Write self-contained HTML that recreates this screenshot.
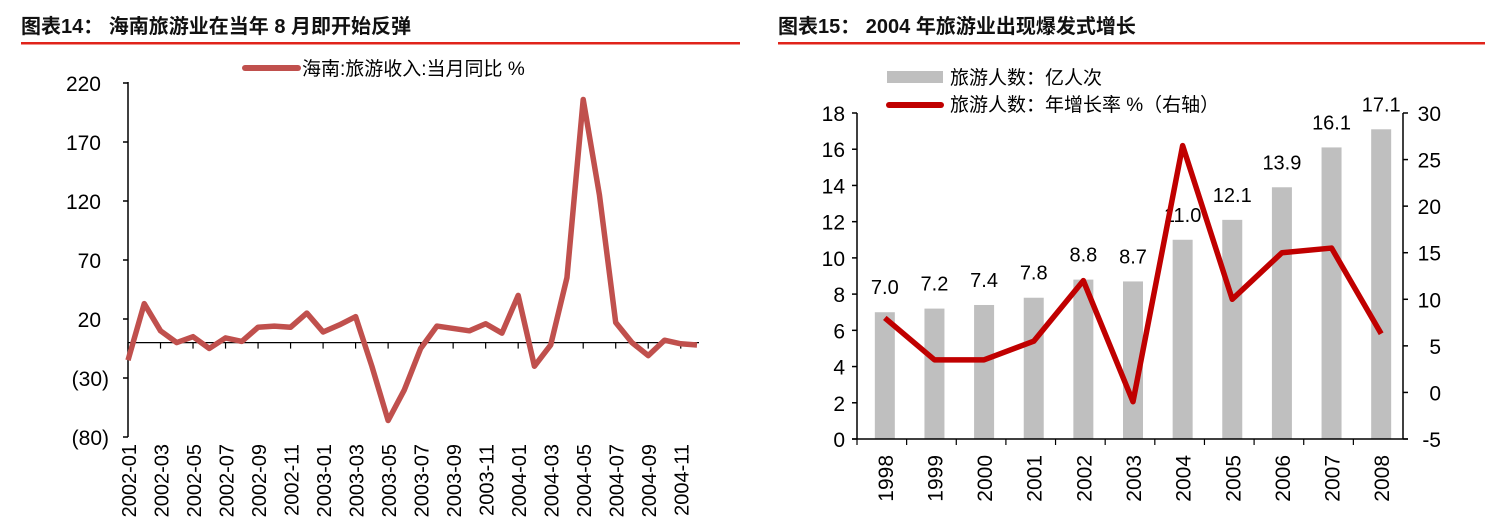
<!DOCTYPE html>
<html><head><meta charset="utf-8"><style>
body{margin:0;background:#fff;}
svg{display:block;font-family:"Liberation Sans","Noto Sans CJK SC",sans-serif;}
</style></head><body>
<svg id="s" width="1504" height="523" viewBox="0 0 1504 523">
<text x="21" y="33" font-size="20" font-weight="bold" fill="#111">图表14：  海南旅游业在当年 8 月即开始反弹</text>
<rect x="21" y="42" width="719" height="2.5" fill="#e0231a"/>
<text x="778" y="33" font-size="20" font-weight="bold" fill="#111">图表15：  2004 年旅游业出现爆发式增长</text>
<rect x="778" y="42" width="707" height="2.5" fill="#e0231a"/>
<g id="left"></g>
<g id="right"></g>
</svg>
<script>
// Left chart data
const monthLabels = ["2002-01","2002-03","2002-05","2002-07","2002-09","2002-11","2003-01","2003-03","2003-05","2003-07","2003-09","2003-11","2004-01","2004-03","2004-05","2004-07","2004-09","2004-11"];
const leftTicks = [220,170,120,70,20,-30,-80];
const tourismIncomeYoY = [-15,33,10,0,5,-5,4,1,13,14,13,25,9,15,22,-20,-66,-40,-5,14,12,10,16,8,40,-20,-2,55,206,125,17,0,-11,2,-1,-2];
// Right chart data
const years = ["1998","1999","2000","2001","2002","2003","2004","2005","2006","2007","2008"];
const visitors = [7.0,7.2,7.4,7.8,8.8,8.7,11.0,12.1,13.9,16.1,17.1];
const growthRate = [8,3.5,3.5,5.5,12,-1,26.5,10,15,15.5,6.3];
const leftAxisTicks = [0,2,4,6,8,10,12,14,16,18];
const rightAxisTicks = [-5,0,5,10,15,20,25,30];

const NS="http://www.w3.org/2000/svg";
function mk(parent,tag,attrs,text){const e=document.createElementNS(NS,tag);for(const k in attrs)e.setAttribute(k,attrs[k]);if(text!==undefined)e.textContent=text;parent.appendChild(e);return e;}

// ---- left chart ----
const L=document.getElementById('left');
const lx0=128, lstep=(697-128)/35;
const ly=v=>342.6-(v)*1.18;
const lxi=i=>lx0+i*lstep;
let e=mk(L,'line',{x1:lx0,y1:ly(220)-1,x2:lx0,y2:ly(-80),stroke:'#000','stroke-width':1.5});


leftTicks.forEach(t=>{
  e=mk(L,'line',{x1:lx0-5,y1:ly(t),x2:lx0,y2:ly(t),stroke:'#000','stroke-width':1.5});
  
  
  const lab=t<0?'('+(-t)+')':String(t);
  e=mk(L,'text',{x:t<0?lx0-19:lx0-27,y:ly(t)+8,'font-size':21,'text-anchor':'end',fill:'#000'},lab);
  
  
});
e=mk(L,'line',{x1:lx0,y1:ly(0),x2:lxi(35)+2,y2:ly(0),stroke:'#000','stroke-width':1.2});


monthLabels.forEach((m,k)=>{
  const x=lxi(k*2);
  e=mk(L,'line',{x1:x,y1:ly(0),x2:x,y2:ly(0)+6,stroke:'#000','stroke-width':1.2});
  
  
  e=mk(L,'text',{x:0,y:0,'font-size':20,'text-anchor':'end',fill:'#000',transform:`translate(${x+8},444) rotate(-90)`},m);
  
  
});
e=mk(L,'polyline',{points:tourismIncomeYoY.map((v,i)=>lxi(i)+','+ly(v)).join(' '),fill:'none',stroke:'#c0504d','stroke-width':5.5,'stroke-linejoin':'round'});


e=mk(L,'line',{x1:245,y1:68,x2:298,y2:68,stroke:'#c0504d','stroke-width':6,'stroke-linecap':'round'});


e=mk(L,'text',{x:302,y:75,'font-size':19,fill:'#000'},'海南:旅游收入:当月同比 %');



// ---- right chart ----
const R=document.getElementById('right');
const rx0=857, rx1=1403, rstep=(rx1-rx0)/years.length;
const ryL=v=>439-v*(326/18);
const ryR=v=>439-(v+5)*(326/35);
const rxc=i=>rx0+rstep*(i+0.5)+3;
visitors.forEach((v,i)=>{
  e=mk(R,'rect',{x:rxc(i)-10,y:ryL(v),width:20,height:439-ryL(v),fill:'#bfbfbf'});
  
  
  e=mk(R,'text',{x:rxc(i),y:ryL(v)-18,'font-size':20,'text-anchor':'middle',fill:'#000'},v.toFixed(1));
  
  
});
e=mk(R,'line',{x1:rx0,y1:ryL(18),x2:rx0,y2:439,stroke:'#000','stroke-width':1.5});


e=mk(R,'line',{x1:rx1,y1:ryR(30),x2:rx1,y2:439,stroke:'#000','stroke-width':1.5});


e=mk(R,'line',{x1:rx0-5,y1:439,x2:rx1+5,y2:439,stroke:'#000','stroke-width':1.5});


leftAxisTicks.forEach(t=>{
  e=mk(R,'line',{x1:rx0-5,y1:ryL(t),x2:rx0,y2:ryL(t),stroke:'#000','stroke-width':1.5});
  
  
  e=mk(R,'text',{x:rx0-12,y:ryL(t)+8,'font-size':21,'text-anchor':'end',fill:'#000'},String(t));
  
  
});
rightAxisTicks.forEach(t=>{
  e=mk(R,'line',{x1:rx1,y1:ryR(t),x2:rx1+5,y2:ryR(t),stroke:'#000','stroke-width':1.5});
  
  
  e=mk(R,'text',{x:rx1+38,y:ryR(t)+8,'font-size':21,'text-anchor':'end',fill:'#000'},String(t));
  
  
});
years.forEach((y,i)=>{
  const x=rx0+rstep*i;
  e=mk(R,'line',{x1:x,y1:439,x2:x,y2:445,stroke:'#000','stroke-width':1.2});
  
  
  e=mk(R,'text',{x:0,y:0,'font-size':21,'text-anchor':'end',fill:'#000',transform:`translate(${rxc(i)+8},455) rotate(-90)`},y);
  
  
});
e=mk(R,'polyline',{points:growthRate.map((v,i)=>rxc(i)+','+ryR(v)).join(' '),fill:'none',stroke:'#c00000','stroke-width':5.5,'stroke-linejoin':'round'});


e=mk(R,'rect',{x:887,y:71,width:56,height:12,fill:'#bfbfbf'});


e=mk(R,'text',{x:950,y:84,'font-size':19,fill:'#000'},'旅游人数：亿人次');


e=mk(R,'line',{x1:889,y1:105,x2:941,y2:105,stroke:'#c00000','stroke-width':6,'stroke-linecap':'round'});


e=mk(R,'text',{x:950,y:111,'font-size':19,fill:'#000'},'旅游人数：年增长率  %（右轴）');


</script>
</body></html>
